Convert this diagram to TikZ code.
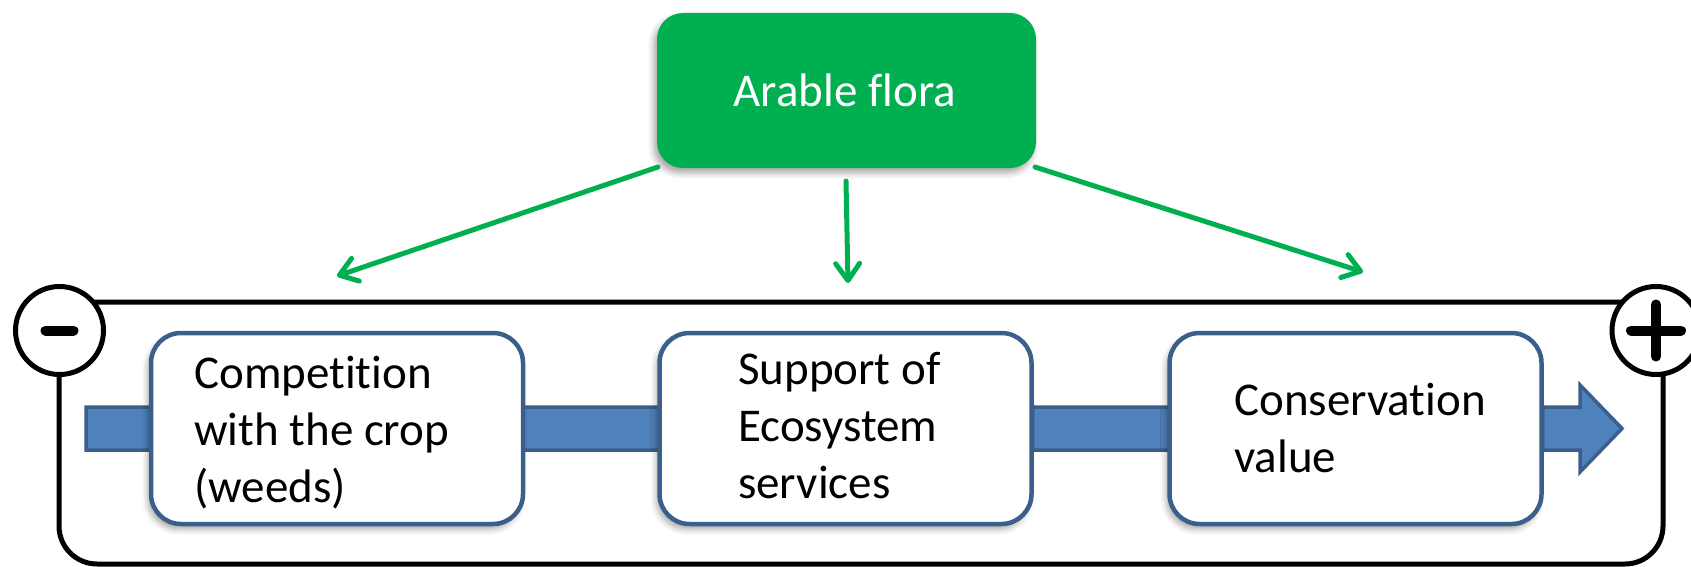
\documentclass[tikz,border=0pt]{standalone}
\usepackage{fontspec}
\setmainfont{Carlito}[Ligatures=NoCommon]
\usetikzlibrary{arrows.meta,shadows.blur}
\definecolor{grn}{HTML}{00B050}
\definecolor{bfill}{HTML}{4F81BD}
\definecolor{bline}{HTML}{3A5F8B}
\tikzset{
  txt/.style={font=\fontsize{47}{57}\selectfont, align=left, inner sep=0pt},
  softshadow/.style={blur shadow={shadow xshift=-3pt, shadow yshift=-5pt, shadow blur radius=6pt, shadow opacity=35}},
  card/.style={draw=bline, line width=4.5pt, fill=white, rounded corners=30pt, minimum width=372pt, minimum height=191pt, inner sep=0pt, softshadow},
  topbox/.style={fill=grn, rounded corners=26pt, minimum width=379pt, minimum height=155pt, inner sep=0pt, softshadow},
  link/.style={draw=grn, line width=5pt, line cap=round, -{Straight Barb[length=17pt,width=24pt,line cap=round,line join=round]}},
  ring/.style={circle, draw=black, line width=5pt, fill=white, minimum size=88pt, inner sep=0pt},
  signbar/.style={line width=10pt, line cap=round},
  frame/.style={line width=5pt, rounded corners=38pt},
  bigarrow/.style={fill=bfill, draw=bline, line width=3.5pt, line join=miter},
}
\begin{document}
\begin{tikzpicture}[x=1pt, y=-1pt]
\useasboundingbox (0,0) rectangle (1691,567);
% outer frame
\draw[frame] (59,302) rectangle (1663,564);
% end circles
\node[ring] (minus) at (59.5,330.5) {};
\node[ring] (plus) at (1656,330.5) {};
\draw[signbar] ([xshift=-14pt]minus.center) -- ([xshift=14pt]minus.center);
\draw[signbar] ([xshift=-25pt]plus.center) -- ([xshift=25pt]plus.center);
\draw[signbar] ([yshift=-26pt]plus.center) -- ([yshift=26pt]plus.center);
% big blue arrow
\draw[bigarrow] (86,407) -- (1580,407) -- (1580,385) -- (1622,428.5) -- (1580,472) -- (1580,450) -- (86,450) -- cycle;
% cards
\node[card] (c1) at (337,428.5) {};
\node[card] (c2) at (845.5,428.5) {};
\node[card] (c3) at (1355.5,428.5) {};
\node[txt, anchor=west] (t1) at (194,433) {Competition\\with the crop\\(weeds)};
\node[txt, anchor=west] (t2) at (738,426) {Support of\\Ecosystem\\services};
\node[txt, anchor=west] (t3) at (1234,428) {Conservation\\value};
% top box
\node[topbox] (top) at (846.5,90.5) {};
\node[txt, text=white, anchor=base] (toptxt) at (845,107) {Arable flora};
% connectors
\coordinate (sl) at (658,167);
\coordinate (sm) at (846,181);
\coordinate (sr) at (1035,167);
\coordinate (el) at (337,276);
\coordinate (em) at (848,283);
\coordinate (er) at (1363,272);
\draw[link] (sl) -- (el);
\draw[link] (sm) -- (em);
\draw[link] (sr) -- (er);
\end{tikzpicture}
\end{document}
